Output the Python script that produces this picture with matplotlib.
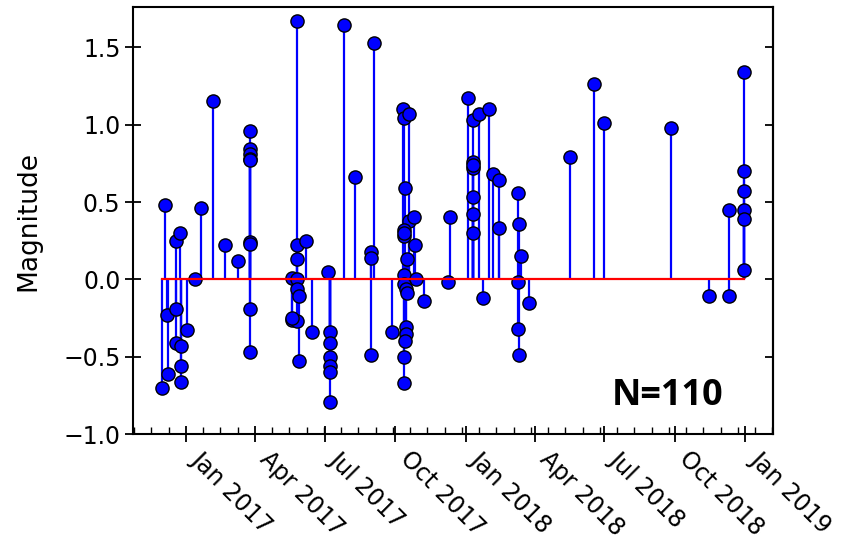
import matplotlib
matplotlib.use("Agg")
import matplotlib.pyplot as plt
import matplotlib.dates as mdates
from matplotlib.ticker import AutoMinorLocator
import numpy as np
import pandas as pd

# event dates and magnitudes
dates = [
    "2016-12-01", "2016-12-05", "2016-12-07", "2016-12-09", "2016-12-19", "2016-12-19",
    "2016-12-24", "2016-12-19", "2016-12-25", "2016-12-25", "2016-12-25", "2017-01-02",
    "2017-01-13", "2017-01-21", "2017-02-06", "2017-02-21", "2017-03-10",
    "2017-03-25", "2017-03-25", "2017-03-25", "2017-03-25", "2017-03-25", "2017-03-25",
    "2017-03-25", "2017-03-25", "2017-03-25",
    "2017-05-19", "2017-05-26", "2017-05-19", "2017-05-26", "2017-05-26", "2017-05-26",
    "2017-05-26", "2017-05-26", "2017-05-19", "2017-05-29", "2017-05-29", "2017-06-07",
    "2017-06-14", "2017-07-05", "2017-07-08", "2017-07-08", "2017-07-08", "2017-07-08",
    "2017-07-08", "2017-07-08", "2017-07-26", "2017-08-09", "2017-08-30", "2017-08-30",
    "2017-08-30", "2017-09-04", "2017-09-27",
    "2017-10-11", "2017-10-12", "2017-10-19", "2017-10-14", "2017-10-19", "2017-10-26",
    "2017-10-13", "2017-10-12", "2017-10-27", "2017-10-17", "2017-10-12", "2017-10-28",
    "2017-10-12", "2017-10-15", "2017-10-16", "2017-11-07", "2017-10-15", "2017-10-15",
    "2017-10-14", "2017-10-13", "2017-10-13", "2017-10-13",
    "2017-12-09", "2017-12-12", "2018-01-04", "2018-01-11", "2018-01-11", "2018-01-11",
    "2018-01-11", "2018-01-11", "2018-01-11", "2018-01-11", "2018-01-18", "2018-01-24",
    "2018-02-01", "2018-02-05", "2018-02-13", "2018-02-13",
    "2018-03-10", "2018-03-11", "2018-03-14", "2018-03-10", "2018-03-10", "2018-03-12",
    "2018-03-24", "2018-05-17", "2018-06-18", "2018-06-30", "2018-09-26", "2018-11-14",
    "2018-12-10", "2018-12-10", "2018-12-30", "2018-12-30", "2018-12-30", "2018-12-30",
    "2018-12-30", "2018-12-30",
]
magnitude = [
    -0.70, 0.48, -0.23, -0.61, 0.25, -0.19,
    0.30, -0.41, -0.43, -0.56, -0.66, -0.33,
    0.00, 0.46, 1.15, 0.22, 0.12,
    0.96, 0.84, 0.81, 0.78, 0.77, 0.24,
    0.23, -0.19, -0.47,
    0.01, 0.00, -0.26, 1.67, 0.22, 0.13,
    -0.065, -0.27, -0.25, -0.11, -0.53, 0.25,
    -0.34, 0.05, -0.34, -0.41, -0.50, -0.56,
    -0.60, -0.79, 1.645, 0.66, 0.18, 0.14,
    -0.49, 1.53, -0.34,
    1.10, 1.04, 1.07, 0.59, 0.38, 0.40,
    0.32, 0.28, 0.22, 0.13, 0.03, 0.00,
    -0.03, -0.065, -0.09, -0.14, -0.31, -0.355,
    -0.40, -0.50, -0.67, 0.30,
    -0.02, 0.40, 1.17, 1.03, 0.76, 0.72,
    0.53, 0.42, 0.30, 0.74, 1.07, -0.12,
    1.10, 0.68, 0.64, 0.33,
    0.56, 0.36, 0.15, -0.02, -0.32, -0.49,
    -0.15, 0.79, 1.26, 1.01, 0.98, -0.11,
    -0.11, 0.45, 1.34, 0.70, 0.57, 0.45,
    0.39, 0.06,
]
x_range = ("2016-10-24", "2019-02-06")
y_range = (-1.0, 1.76)
y_ticks = [-1.0, -0.5, 0.0, 0.5, 1.0, 1.5]
n_label = "N=110"

dt = pd.to_datetime(dates)
xnum = mdates.date2num(dt.to_pydatetime())

fig = plt.figure(figsize=(8.58, 5.42), dpi=100)
ax = fig.add_axes([0.155, 0.199, 0.746, 0.788])

markerline, stemlines, baseline = ax.stem(xnum, magnitude, linefmt="b-", markerfmt="bo", basefmt="r-")
plt.setp(stemlines, linewidth=1.6)
plt.setp(markerline, markersize=9.5, markeredgecolor="black", markeredgewidth=1)
plt.setp(baseline, linewidth=1.6)

ax.set_xlim(mdates.date2num(pd.Timestamp(x_range[0])), mdates.date2num(pd.Timestamp(x_range[1])))
ax.set_ylim(*y_range)
ax.xaxis.set_major_locator(mdates.MonthLocator(bymonth=[1, 4, 7, 10]))
ax.xaxis.set_major_formatter(mdates.DateFormatter("%b %Y"))
ax.xaxis.set_minor_locator(AutoMinorLocator(4))
ax.set_yticks(y_ticks)

ax.tick_params(axis="both", which="major", direction="inout", length=11, width=1.3, labelsize=17)
ax.tick_params(axis="x", which="minor", direction="in", length=5, width=1.0)
for lbl in ax.get_xticklabels():
    lbl.set_rotation(-45)
    lbl.set_ha("left")

# inward ticks on the right side, no labels
sec = ax.secondary_yaxis("right")
sec.set_yticks(y_ticks)
sec.tick_params(direction="in", length=6, width=1.3, labelright=False)

for sp in list(ax.spines.values()) + list(sec.spines.values()):
    sp.set_linewidth(1.5)

ax.set_ylabel("Magnitude", fontsize=19, labelpad=16)
ax.text(0.835, 0.09, n_label, transform=ax.transAxes, ha="center", va="center",
        fontsize=26, fontweight="bold", family="Open Sans")

fig.savefig("out.png", dpi=100)
